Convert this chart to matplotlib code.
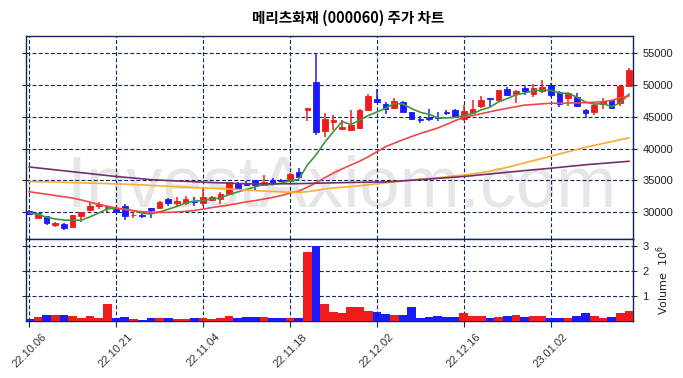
import matplotlib
matplotlib.use('Agg')
import matplotlib.pyplot as plt
import numpy as np

title = "메리츠화재 (000060) 주가 차트"

dates = ['22.10.06', '22.10.07', '22.10.11', '22.10.12', '22.10.13', '22.10.14', '22.10.17', '22.10.18',
         '22.10.19', '22.10.20', '22.10.21', '22.10.24', '22.10.25', '22.10.26', '22.10.27', '22.10.28',
         '22.10.31', '22.11.01', '22.11.02', '22.11.03', '22.11.04', '22.11.07', '22.11.08', '22.11.09',
         '22.11.10', '22.11.11', '22.11.14', '22.11.15', '22.11.16', '22.11.17', '22.11.18', '22.11.21',
         '22.11.22', '22.11.23', '22.11.24', '22.11.25', '22.11.28', '22.11.29', '22.11.30', '22.12.01',
         '22.12.02', '22.12.05', '22.12.06', '22.12.07', '22.12.08', '22.12.09', '22.12.12', '22.12.13',
         '22.12.14', '22.12.15', '22.12.16', '22.12.19', '22.12.20', '22.12.21', '22.12.22', '22.12.23',
         '22.12.26', '22.12.27', '22.12.28', '22.12.29', '23.01.02', '23.01.03', '23.01.04', '23.01.05',
         '23.01.06', '23.01.09', '23.01.10', '23.01.11', '23.01.12', '23.01.13']

opens = [30200, 29050, 29300, 27900, 28150, 27650, 29300, 30250, 30950, 30600,
         30400, 31000, 29500, 29600, 30600, 30700, 32000, 31350, 31400, 31800,
         31500, 31900, 32100, 32900, 34650, 34600, 35000, 34300, 35100, 35100,
         34850, 36300, 46150, 50500, 42700, 44150, 43150, 43000, 43200, 46100,
         47800, 47000, 46400, 47400, 45750, 44700, 44800, 45000, 45800, 46150,
         44600, 45600, 46750, 48000, 47700, 49400, 48600, 49600, 48600, 49150,
         50050, 48900, 47900, 48150, 46100, 45750, 46950, 47600, 47200, 49800]
highs = [30300, 29900, 29400, 28450, 28200, 29600, 30000, 31600, 31600, 31150,
         30500, 31200, 29950, 29700, 30700, 31700, 32200, 32400, 32450, 32400,
         33900, 32600, 33100, 34800, 34700, 34900, 35100, 35800, 35300, 35200,
         36100, 37000, 46400, 55000, 45600, 45350, 44550, 46100, 46200, 48600,
         49400, 47300, 48000, 47500, 45800, 45100, 46200, 45700, 46050, 46300,
         46800, 47600, 48300, 48050, 49300, 49700, 49300, 49800, 50200, 50850,
         50300, 49000, 48900, 48750, 46300, 47300, 47900, 47700, 49900, 52700]
lows = [29600, 29000, 28000, 27700, 27100, 27600, 28500, 30200, 30400, 30050,
        29900, 28800, 29050, 29000, 29050, 30600, 31000, 31000, 31050, 31000,
        30900, 31800, 31200, 32850, 33650, 34100, 33500, 34200, 34200, 34700,
        34800, 35400, 44300, 42200, 41900, 43000, 43100, 42850, 43100, 45900,
        47200, 45500, 46300, 45700, 44500, 44000, 44300, 44300, 45300, 44900,
        44300, 45500, 46400, 46550, 47600, 48300, 47200, 48500, 48200, 48700,
        48200, 46550, 46700, 46500, 44750, 45350, 46300, 46200, 46700, 49700]
closes = [29700, 29850, 28300, 28300, 27500, 29550, 29950, 30900, 31300, 30800,
          30000, 29300, 29600, 29300, 30300, 31650, 31350, 31800, 32100, 31600,
          32350, 32300, 32800, 34700, 33700, 34300, 34300, 34800, 34550, 34850,
          36000, 35500, 46400, 42600, 44700, 44450, 43400, 43750, 46100, 48300,
          47300, 46300, 47500, 45750, 44600, 44450, 44650, 44800, 45650, 45000,
          45900, 46250, 47700, 47750, 49250, 48500, 49150, 49150, 49550, 49650,
          48400, 47050, 48800, 46750, 45600, 46800, 47550, 46400, 49800, 52400]
volumes = [80000, 160000, 240000, 240000, 240000, 200000, 120000, 200000, 120000, 680000,
           120000, 160000, 80000, 70000, 120000, 120000, 120000, 80000, 80000, 120000,
           120000, 80000, 120000, 200000, 120000, 160000, 160000, 160000, 120000, 120000,
           120000, 120000, 2770000, 2970000, 690000, 360000, 320000, 560000, 560000, 400000,
           360000, 280000, 240000, 240000, 560000, 120000, 160000, 200000, 160000, 160000,
           320000, 200000, 200000, 120000, 160000, 200000, 240000, 160000, 200000, 200000,
           120000, 120000, 120000, 200000, 320000, 200000, 120000, 160000, 320000, 400000]

ma5 = [29900, 29600, 29200, 28900, 28730, 28700, 28720, 29240, 29840, 30500,
       30590, 30460, 30200, 29800, 29700, 30030, 30440, 30880, 31440, 31700,
       31840, 32030, 32230, 32750, 33170, 33560, 33960, 34360, 34330, 34560,
       34900, 35140, 37410, 39020, 40990, 42680, 44260, 43780, 44480, 45200,
       45770, 46350, 47100, 47030, 46290, 45720, 45390, 44850, 44830, 44910,
       45200, 45520, 46100, 46520, 47370, 47890, 48470, 48760, 49120, 49200,
       49180, 48760, 48690, 48130, 47320, 47000, 47100, 46620, 47230, 48590]
ma20 = [33200, 33000, 32800, 32600, 32400, 32200, 31900, 31550, 31200, 30900,
        30650, 30400, 30200, 30050, 29980, 29950, 29950, 30000, 30100, 30250,
        30450, 30700, 30900, 31100, 31350, 31600, 31800, 32050, 32300, 32600,
        33000, 33300, 33900, 34600, 35400, 36150, 36800, 37400, 38000, 38700,
        39500, 40300, 40850, 41400, 41900, 42400, 42800, 43250, 43800, 44400,
        44950, 45200, 45500, 45800, 46100, 46350, 46600, 46850, 46950, 47050,
        47150, 47150, 47180, 47200, 47250, 47300, 47400, 47600, 48000, 48300]
ma60 = [34800, 34780, 34750, 34720, 34680, 34640, 34600, 34560, 34520, 34480,
        34440, 34400, 34340, 34280, 34200, 34130, 34060, 34000, 33930, 33860,
        33800, 33750, 33700, 33620, 33540, 33460, 33380, 33300, 33230, 33170,
        33120, 33100, 33200, 33400, 33650, 33800, 33900, 34000, 34150, 34300,
        34450, 34600, 34750, 34900, 35050, 35200, 35300, 35400, 35550, 35700,
        35850, 36000, 36200, 36450, 36750, 37050, 37400, 37750, 38100, 38450,
        38800, 39150, 39500, 39850, 40200, 40500, 40800, 41100, 41400, 41700]
ma120 = [37100, 36950, 36800, 36650, 36500, 36350, 36200, 36050, 35900, 35750,
         35600, 35480, 35360, 35230, 35100, 35030, 34960, 34900, 34830, 34770,
         34700, 34650, 34600, 34550, 34500, 34450, 34450, 34450, 34450, 34450,
         34450, 34480, 34510, 34540, 34570, 34600, 34630, 34660, 34680, 34700,
         34720, 34750, 34830, 34920, 35010, 35100, 35200, 35300, 35400, 35500,
         35600, 35730, 35870, 36000, 36130, 36270, 36400, 36530, 36650, 36780,
         36900, 37040, 37180, 37310, 37450, 37560, 37670, 37780, 37890, 38000]

price_ticks = [30000, 35000, 40000, 45000, 50000, 55000]
volume_ticks = [1, 2, 3]
tick_step = 10

UP = '#f21b1b'
DOWN = '#1a1aff'
NAVY = '#0d2660'

fig = plt.figure(figsize=(6.83, 3.78), dpi=100)
ax = fig.add_axes([0.0376, 0.3677, 0.8897, 0.5371])
axv = fig.add_axes([0.0376, 0.15, 0.8897, 0.2177], sharex=ax)

x = np.arange(len(dates))
o = np.array(opens); c = np.array(closes); h = np.array(highs); l = np.array(lows)
up = c >= o
colors = np.where(up, UP, DOWN)

ax.text(0.52, 0.25, 'InvestAxiom.com', transform=ax.transAxes, fontsize=52,
        color='#e6e6e6', ha='center', va='center', zorder=0, family='Liberation Sans')

ax.vlines(x, l, h, colors=colors, linewidth=1.1, zorder=3)
ax.bar(x, np.abs(c - o), bottom=np.minimum(o, c), width=0.65, color=colors,
       edgecolor=colors, linewidth=0.6, zorder=4)

ax.plot(x, ma5, color='#3a9a3a', lw=1.2, zorder=5)
ax.plot(x, ma20, color='#f04848', lw=1.2, zorder=5)
ax.plot(x, ma60, color='#ffab33', lw=1.2, zorder=5)
ax.plot(x, ma120, color='#73306a', lw=1.2, zorder=5)

ax.set_xlim(-0.4, 69.5)
ax.set_ylim(min(lows) * 0.95, max(highs) * 1.05)
ax.set_yticks(price_ticks)
ax.yaxis.tick_right()
ax.tick_params(axis='y', which='both', left=True, right=True, labelleft=False, labelright=True,
               labelsize=8, colors='#222222', length=3)
ax.tick_params(axis='x', bottom=False, labelbottom=False)

vol = np.array(volumes) / 1e6
axv.bar(x, vol, width=1.0, color=colors, zorder=3)
axv.set_ylim(0, vol.max() * 1.1)
axv.set_yticks(volume_ticks)
axv.yaxis.tick_right()
axv.yaxis.set_label_position('right')
axv.set_ylabel(r'Volume  $10^{6}$', fontsize=8, color='#222222', labelpad=4)
axv.tick_params(axis='y', left=True, right=True, labelleft=False, labelright=True,
                labelsize=8, colors='#222222', length=3)

tick_pos = x[::tick_step]
axv.set_xticks(tick_pos)
axv.set_xticklabels([dates[i] for i in tick_pos], rotation=45, ha='center',
                    fontsize=8, color='#333333')
axv.tick_params(axis='x', length=4, colors=NAVY, labelcolor='#333333')

for a in (ax, axv):
    a.set_axisbelow(True)
    a.grid(True, color=NAVY, linestyle=(0, (3.5, 2)), linewidth=0.8)
    for s in a.spines.values():
        s.set_color(NAVY)
        s.set_linewidth(1.0)
    for t in a.get_yticklabels():
        t.set_family('Liberation Sans')
for t in axv.get_xticklabels():
    t.set_family('Liberation Sans')

fig.text(0.51, 0.953, title, ha='center', va='center', fontsize=10.5, fontweight='bold',
         family=['Noto Sans CJK KR', 'DejaVu Sans'])

fig.savefig('out.png', dpi=100)
